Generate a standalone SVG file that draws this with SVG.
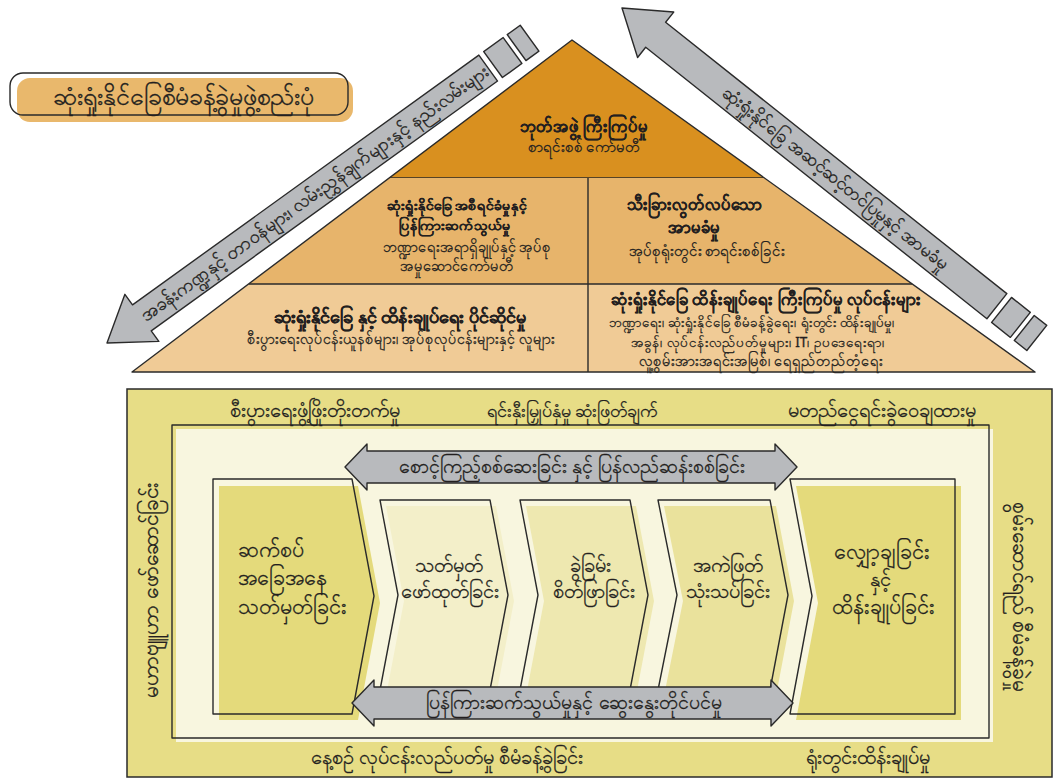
<svg xmlns="http://www.w3.org/2000/svg" width="1062" height="783" viewBox="0 0 1062 783">
<style>
.t{font-family:"Noto Sans","DejaVu Sans",sans-serif;fill:#231f20;stroke:#231f20;stroke-width:0.3px;text-anchor:middle}
.ln{fill:none;stroke:#2a2a2a;stroke-width:1.4;stroke-linejoin:round}
.arr{fill:#b8babd;stroke:#2a2a2a;stroke-width:1.4;stroke-linejoin:round}
.b{font-weight:600}
.c1{font-size:21.5px}
.c2{font-size:20px}
.r{font-size:20px}
</style>
<rect width="1062" height="783" fill="#ffffff"/>

<g id="title">
  <rect x="17" y="78" width="336" height="44" rx="13" fill="#e9b86c"/>
  <rect x="10" y="73" width="338" height="42" rx="13" class="ln"/>
  <text x="183" y="105" class="t" style="font-size:25px">ဆုံးရှုံးနိုင်ခြေစီမံခန့်ခွဲမှုဖွဲ့စည်းပုံ</text>
</g>

<g id="board">
  <polygon points="572,40 764,178 389,178" fill="#d9901f"/>
  <line x1="389" y1="178" x2="764" y2="178" class="ln"/>
  <text x="584" y="132" class="t b" style="font-size:16.5px">ဘုတ်အဖွဲ့ ကြီးကြပ်မှု</text>
  <text x="584" y="152" class="t" style="font-size:15px">စာရင်းစစ် ကော်မတီ</text>
</g>
<g id="reporting">
  <polygon points="389,178 588,178 588,284 249,284" fill="#e7b46b"/>
  <text x="457" y="210" class="t b" style="font-size:14px">ဆုံးရှုံးနိုင်ခြေ အစီရင်ခံမှုနှင့်</text>
  <text x="455" y="230" class="t b" style="font-size:14px">ပြန်ကြားဆက်သွယ်မှု</text>
  <text x="467" y="252" class="t" style="font-size:14.5px">ဘဏ္ဍာရေးအရာရှိချုပ်နှင့် အုပ်စု</text>
  <text x="457" y="271" class="t" style="font-size:14.5px">အမှုဆောင်ကော်မတီ</text>
</g>
<g id="assurance">
  <polygon points="588,178 764,178 912,284 588,284" fill="#e7b46b"/>
  <text x="694" y="210" class="t b" style="font-size:16.5px">သီးခြားလွတ်လပ်သော</text>
  <text x="694" y="233" class="t b" style="font-size:16.5px">အာမခံမှု</text>
  <text x="707" y="256" class="t" style="font-size:15px">အုပ်စုရုံးတွင်း စာရင်းစစ်ခြင်း</text>
</g>
<g id="ownership">
  <polygon points="249,284 588,284 588,372 132,372" fill="#f0cb96"/>
  <text x="400" y="323" class="t b" style="font-size:18px">ဆုံးရှုံးနိုင်ခြေ နှင့် ထိန်းချုပ်ရေး ပိုင်ဆိုင်မှု</text>
  <text x="401" y="344" class="t" style="font-size:14.3px">စီးပွားရေးလုပ်ငန်းယူနစ်များ၊ အုပ်စုလုပ်ငန်းများနှင့် လူများ</text>
</g>
<g id="oversight">
  <polygon points="588,284 912,284 1035,372 588,372" fill="#f0cb96"/>
  <text x="766" y="305" class="t b" style="font-size:16.6px">ဆုံးရှုံးနိုင်ခြေ ထိန်းချုပ်ရေး ကြီးကြပ်မှု လုပ်ငန်းများ</text>
  <text x="752" y="327" class="t" style="font-size:13.3px">ဘဏ္ဍာရေး၊ ဆုံးရှုံးနိုင်ခြေ စီမံခန့်ခွဲရေး၊ ရုံးတွင်း ထိန်းချုပ်မှု၊</text>
  <text x="758" y="347" class="t" style="font-size:13.5px">အခွန်၊ လုပ်ငန်းလည်ပတ်မှုများ၊ IT၊ ဥပဒေရေးရာ၊</text>
  <text x="761" y="366" class="t" style="font-size:14.5px">လူ့စွမ်းအားအရင်းအမြစ်၊ ရေရှည်တည်တံ့ရေး</text>
</g>
<g id="pyramid-lines">
  <polygon points="572,40 1035,372 132,372" class="ln"/>
  <line x1="249" y1="284" x2="912" y2="284" class="ln"/>
  <line x1="588" y1="178" x2="588" y2="372" class="ln"/>
</g>

<g id="framework">
  <rect x="127" y="389" width="925" height="388" fill="#e7dd86" stroke="#2a2a2a" stroke-width="1.5"/>
  <rect x="176" y="429" width="817" height="313" fill="#f8f6df"/>
  <rect x="172" y="425" width="817" height="313" class="ln"/>
  <text x="315" y="417" class="t r">စီးပွားရေးဖွံ့ဖြိုးတိုးတက်မှု</text>
  <text x="572" y="417" class="t" style="font-size:18px">ရင်းနှီးမြှုပ်နှံမှု ဆုံးဖြတ်ချက်</text>
  <text x="882" y="417" class="t r">မတည်ငွေရင်းခွဲဝေချထားမှု</text>
  <text x="447" y="764" class="t r">နေ့စဉ် လုပ်ငန်းလည်ပတ်မှု စီမံခန့်ခွဲခြင်း</text>
  <text x="868" y="764" class="t r">ရုံးတွင်းထိန်းချုပ်မှု</text>
  <text transform="translate(158,590) rotate(-90)" class="t" style="font-size:21px">မဟာဗျူဟာ ဖော်ဆောင်ခြင်း</text>
  <text transform="translate(1013,597) rotate(90)" class="t" style="font-size:21px">စွမ်းဆောင်ရည် စီမံခန့်ခွဲမှု</text>
</g>

<g id="step1">
  <polygon points="219,486 358,486 380,603 358,720 219,720" fill="#e4da7b"/>
  <polygon points="213,479 352,479 374,596 352,714 213,714" class="ln"/>
  <text x="238" y="557" class="t c1" style="text-anchor:start">ဆက်စပ်</text>
  <text x="238" y="585" class="t c1" style="text-anchor:start">အခြေအနေ</text>
  <text x="238" y="614" class="t c1" style="text-anchor:start">သတ်မှတ်ခြင်း</text>
</g>
<g id="step2">
  <polygon points="386,506 496,506 514,601 496,696 386,696 404,601" fill="#f3efc9"/>
  <polygon points="380,500 490,500 508,595 490,690 380,690 398,595" class="ln"/>
  <text x="449" y="572" class="t c2">သတ်မှတ်</text>
  <text x="450" y="598" class="t c2">ဖော်ထုတ်ခြင်း</text>
</g>
<g id="step3">
  <polygon points="526,506 636,506 654,601 636,696 526,696 544,601" fill="#eee8b0"/>
  <polygon points="520,500 630,500 648,595 630,690 520,690 538,595" class="ln"/>
  <text x="590" y="572" class="t c2">ခွဲခြမ်း</text>
  <text x="594" y="598" class="t c2">စိတ်ဖြာခြင်း</text>
</g>
<g id="step4">
  <polygon points="664,506 776,506 794,601 776,696 664,696 683,601" fill="#eae29c"/>
  <polygon points="658,500 770,500 788,595 770,690 658,690 677,595" class="ln"/>
  <text x="728" y="572" class="t c2">အကဲဖြတ်</text>
  <text x="728" y="598" class="t c2">သုံးသပ်ခြင်း</text>
</g>
<g id="step5">
  <polygon points="796,486 961,486 961,720 796,720 818,603" fill="#e4da7b"/>
  <polygon points="790,479 955,479 955,714 790,714 812,596" class="ln"/>
  <text x="882" y="559" class="t c1">လျှော့ချခြင်း</text>
  <text x="880" y="586" class="t" style="font-size:20px">နှင့်</text>
  <text x="883" y="614" class="t c1">ထိန်းချုပ်ခြင်း</text>
</g>

<g id="connectors">
  <g transform="translate(107,343) rotate(-35.8)">
    <polygon points="0,0 43,-29 43,-16 470,-16 470,16 43,16 43,29" class="arr"/>
    <rect x="476" y="-16" width="24" height="32" class="arr"/>
    <rect x="505" y="-16" width="16" height="32" class="arr"/>
    <text x="256" y="6" class="t" style="font-size:18.5px">အခန်းကဏ္ဍနှင့် တာဝန်များ၊ လမ်းညွှန်ချက်များနှင့် နည်းလမ်းများ</text>
  </g>
  <g transform="translate(622,8) rotate(38.5)">
    <polygon points="0,0 43,-29 43,-16 479,-16 479,16 43,16 43,29" class="arr"/>
    <rect x="485" y="-16" width="24" height="32" class="arr"/>
    <rect x="514" y="-16" width="16" height="32" class="arr"/>
    <text x="273" y="6" class="t" style="font-size:18px">ဆုံးရှုံးနိုင်ခြေ အဆင့်ဆင့်တင်ပြမှုနှင့် အာမခံမှု</text>
  </g>
  <g>
    <polygon points="345,467 367,444 367,451 775,451 775,444 797,467 775,490 775,483 367,483 367,490" class="arr"/>
    <text x="572" y="473" class="t" style="font-size:19.5px">စောင့်ကြည့်စစ်ဆေးခြင်း နှင့် ပြန်လည်ဆန်းစစ်ခြင်း</text>
  </g>
  <g>
    <polygon points="352,703 374,680 374,687 771,687 771,680 793,703 771,726 771,719 374,719 374,726" class="arr"/>
    <text x="574" y="709" class="t" style="font-size:19.5px">ပြန်ကြားဆက်သွယ်မှုနှင့် ဆွေးနွေးတိုင်ပင်မှု</text>
  </g>
</g>
</svg>
